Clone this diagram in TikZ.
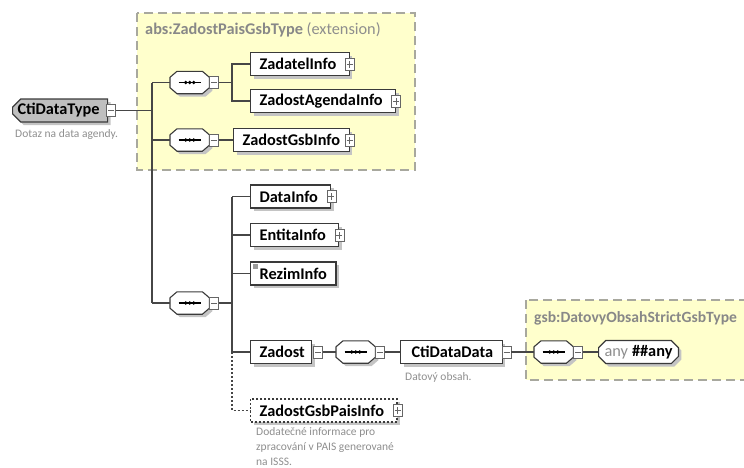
\documentclass[tikz,border=0pt]{standalone}
\usepackage{fontspec}
\setmainfont{Carlito}
\usetikzlibrary{shapes.misc,shadows}

\definecolor{linegray}{HTML}{464646}
\definecolor{boxline}{HTML}{3A3A3A}
\definecolor{shadowgray}{HTML}{C4C4C4}
\definecolor{groupfill}{HTML}{FFFFCC}
\definecolor{groupline}{HTML}{A8A89E}
\definecolor{titlegray}{HTML}{888888}
\definecolor{descgray}{HTML}{8E8E8E}
\definecolor{rootfill}{HTML}{BFBFBF}
\definecolor{iconline}{HTML}{666666}
\definecolor{markgray}{HTML}{9A9A9A}

\tikzset{
  x=1pt, y=-1pt,
  conn/.style={draw=linegray, line width=1.3pt},
  optconn/.style={conn, dash pattern=on 2pt off 2pt},
  boxshadow/.style={drop shadow={shadow xshift=3pt, shadow yshift=-3pt, fill=shadowgray, opacity=1}},
  labelfont/.style={font=\fontsize{16.3}{19}\selectfont\bfseries},
  elem/.style={rectangle, draw=boxline, line width=1.1pt, fill=white, boxshadow,
    minimum height=23pt, inner xsep=9pt, inner ysep=0pt, anchor=west, labelfont},
  optelem/.style={elem, dash pattern=on 2pt off 2pt},
  rootelem/.style={elem, chamfered rectangle, chamfered rectangle corners={north west,south west},
    chamfered rectangle xsep=5pt, inner xsep=0pt, fill=rootfill},
  anyelem/.style={elem, chamfered rectangle, chamfered rectangle xsep=4pt, inner xsep=2pt},
  % compositor frame: an invisible anchor box, outlined by \seqframe
  seqbox/.style={rectangle, minimum width=39pt, minimum height=22pt, inner sep=0pt, anchor=west},
  seqline/.style={draw=boxline, line width=1.1pt, fill=white, boxshadow},
  pmicon/.style={rectangle, draw=iconline, line width=0.8pt, fill=white,
    minimum width=9pt, minimum height=12pt, inner sep=0pt},
  plusicon/.style={pmicon, path picture={
      \draw[iconline, line width=0.8pt]
        ([xshift=-3pt]path picture bounding box.center) -- ([xshift=3pt]path picture bounding box.center)
        ([yshift=-3.5pt]path picture bounding box.center) -- ([yshift=3.5pt]path picture bounding box.center);
    }},
  minusicon/.style={pmicon, anchor=west, path picture={
      \draw[iconline, line width=0.8pt]
        ([xshift=-3pt]path picture bounding box.center) -- ([xshift=3pt]path picture bounding box.center);
    }},
  groupbox/.style={fill=groupfill, draw=groupline, line width=1.5pt, dash pattern=on 9pt off 5pt},
  grouptitle/.style={anchor=west, inner sep=0pt, text=titlegray, labelfont},
  desc/.style={anchor=north west, inner sep=0pt, align=left, text=descgray,
    font=\fontsize{11.5}{15}\selectfont},
  simplemark/.style={path picture={
      \fill[markgray] ([shift={(2pt,-2pt)}]path picture bounding box.north west) rectangle +(5pt,-5pt);
    }},
}

% octagonal sequence compositor drawn around node #1, with its "---" symbol
\newcommand\seqframe[1]{%
  \path[seqline] ([xshift=7pt]#1.north west) -- ([xshift=-7pt]#1.north east)
    -- ([yshift=-6pt]#1.north east) -- ([yshift=6pt]#1.south east)
    -- ([xshift=-7pt]#1.south east) -- ([xshift=7pt]#1.south west)
    -- ([yshift=6pt]#1.south west) -- ([yshift=-6pt]#1.north west) -- cycle;
  \draw[black, line width=1.3pt] ([xshift=-11pt]#1.center) -- ([xshift=11pt]#1.center);
  \foreach \dx in {-4,0,4}
    \fill[black] ([xshift=\dx pt]#1.center) circle (1.9pt);
}

\begin{document}
\begin{tikzpicture}
\useasboundingbox (0,0) rectangle (744,467);

% type containers
\path[groupbox] (137,13) rectangle (415,170);
\node[grouptitle] (abstitle) at (145,30)
  {abs:ZadostPaisGsbType {\mdseries\color{descgray}(extension)}};
\path[groupbox] (526,300) rectangle (760,380);
\node[grouptitle, font=\fontsize{15.6}{19}\selectfont\bfseries] (gsbtitle) at (534,318)
  {gsb:DatovyObsahStrictGsbType};

% bus lines
\coordinate (trunk) at (152,0);
\coordinate (bus) at (232,0);

% root element
\node[rootelem] (cti) at (12,110.5) {CtiDataType\kern3pt};
\node[minusicon] (ctim) at ([xshift=-2pt]cti.east) {};
\node[desc] (ctidesc) at (15,129) {Dotaz na data agendy.};

% inherited sequences
\node[seqbox] (seq1) at (170,82.5) {};
\seqframe{seq1}
\node[minusicon] (seq1m) at (seq1.east) {};
\node[seqbox] (seq2) at (170,140) {};
\seqframe{seq2}
\node[minusicon] (seq2m) at (seq2.east) {};

\node[elem] (zadatel) at (250,64) {ZadatelInfo\kern4pt};
\node[plusicon] (zadatelp) at (zadatel.east) {};
\node[elem] (agenda) at (250,101) {ZadostAgendaInfo\kern4pt};
\node[plusicon] (agendap) at (agenda.east) {};
\node[elem] (gsbinfo) at (233,140) {ZadostGsbInfo};
\node[plusicon] (gsbinfop) at (gsbinfo.east) {};

% own sequence
\node[seqbox] (seq3) at (170,303) {};
\seqframe{seq3}
\node[minusicon] (seq3m) at (seq3.east) {};

\node[elem] (datainfo) at (250,196.5) {DataInfo\kern4pt};
\node[plusicon] (datainfop) at (datainfo.east) {};
\node[elem] (entita) at (250,235) {EntitaInfo\kern4pt};
\node[plusicon] (entitap) at (entita.east) {};
\node[elem, simplemark] (rezim) at (250,273.5) {RezimInfo};
\node[elem] (zadost) at (250,352) {Zadost\kern-2pt};
\node[minusicon] (zadostm) at ([xshift=1pt]zadost.east) {};

\node[seqbox] (seq4) at (336,352) {};
\seqframe{seq4}
\node[minusicon] (seq4m) at (seq4.east) {};
\node[elem] (ctidata) at (400,352) {\kern2pt CtiDataData};
\node[minusicon] (ctidatam) at ([xshift=-1pt]ctidata.east) {};
\node[desc] (ctidatadesc) at (405,372) {Datový obsah.};

\node[seqbox] (seq5) at (534,352) {};
\seqframe{seq5}
\node[minusicon] (seq5m) at (seq5.east) {};
\node[anyelem] (any) at (598,352) {{\mdseries\color{descgray}any}\kern4pt\#\#any};

\node[optelem] (pais) at (250,410.5) {ZadostGsbPaisInfo\kern4pt};
\node[plusicon] (paisp) at (pais.east) {};
\node[desc] (paisdesc) at (256,427)
  {Dodatečné informace pro\\zpracování v PAIS generované\\na ISSS.};

% connectors
\draw[conn] (ctim.east) -- (ctim.east -| trunk);
\draw[conn] (seq1.west -| trunk) -- (seq3.west -| trunk);
\foreach \s in {seq1,seq2,seq3}
  \draw[conn] (\s.west -| trunk) -- (\s.west);
\draw[conn] (seq1m.east) -- (seq1m.east -| bus);
\draw[conn] (zadatel.west) -- (zadatel.west -| bus) -- (agenda.west -| bus) -- (agenda.west);
\draw[conn] (seq2m.east) -- (gsbinfo.west);
\draw[conn] (seq3m.east) -- (seq3m.east -| bus);
\draw[conn] (datainfo.west -| bus) -- (zadost.west -| bus);
\foreach \e in {datainfo,entita,rezim,zadost}
  \draw[conn] (\e.west -| bus) -- (\e.west);
\draw[optconn] (zadost.west -| bus) -- (pais.west -| bus) -- (pais.west);
\draw[conn] (zadostm.east) -- (seq4.west);
\draw[conn] (seq4m.east) -- (ctidata.west);
\draw[conn] (ctidatam.east) -- (seq5.west);
\draw[conn] (seq5m.east) -- (any.west);
\end{tikzpicture}
\end{document}
